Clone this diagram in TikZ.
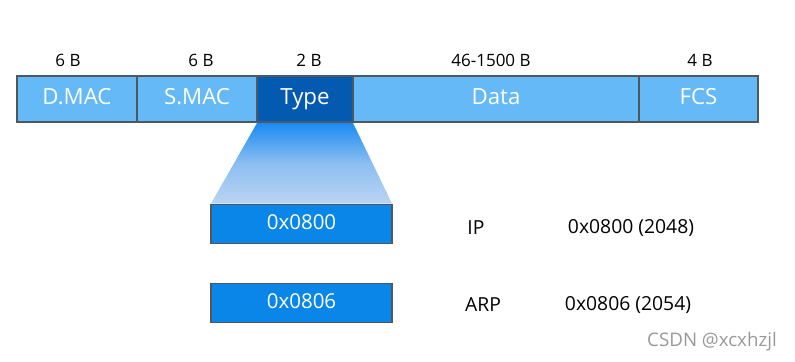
\documentclass[tikz,border=0pt]{standalone}
\usepackage{fontspec}
\setmainfont{Open Sans}
\usepackage{xcolor}
\definecolor{fieldblue}{HTML}{64B9F6}
\definecolor{typeblue}{HTML}{0459B0}
\definecolor{valblue}{HTML}{0A86E8}
\definecolor{edgegray}{HTML}{4E5862}
\definecolor{fanblue}{HTML}{1A8BF2}
\definecolor{fanlight}{HTML}{BCD4F2}
\usepackage{tikz}
\usetikzlibrary{positioning, calc}

\begin{document}
\begin{tikzpicture}[x=0.03cm, y=-0.03cm,
        field/.style={rectangle, draw=edgegray, line width=1.2pt, fill=fieldblue, text=white, minimum height=1.38cm, inner sep=0pt, outer sep=0pt, text height=1.9ex, text depth=0pt, font=\fontsize{19}{22}\selectfont},
        size/.style={font=\fontsize{14.5}{17}\selectfont},
        value/.style={rectangle, draw=edgegray, line width=1.2pt, fill=valblue, text=white, minimum width=5.43cm, minimum height=1.17cm, inner sep=0pt, outer sep=0pt, text height=1.8ex, text depth=0pt, font=\fontsize{17.5}{20}\selectfont},
        proto/.style={font=\fontsize{16.5}{19}\selectfont}]

        \useasboundingbox (0,0) rectangle (795,361);

        % frame fields
        \node [field, minimum width=3.6cm, anchor=west] (dmac) at (17,99) {D.MAC};
        \node [field, minimum width=3.6cm, right=0pt of dmac] (smac) {S.MAC};
        \node [field, minimum width=2.88cm, fill=typeblue, right=0pt of smac] (type) {Type};
        \node [field, minimum width=8.58cm, right=0pt of type] (data) {Data};
        \node [field, minimum width=3.57cm, right=0pt of data] (fcs) {FCS};

        % field sizes
        \node [size] (sdmac) at (68,60) {6 B};
        \node [size] (ssmac) at (201,60) {6 B};
        \node [size] (stype) at (309,60) {2 B};
        \node [size] (sdata) at (491,60) {46-1500 B};
        \node [size] (sfcs) at (700,60) {4 B};

        % type values
        \node [value] (ip) at (301.5,224) {0x0800};
        \node [value] (arp) at (301.5,303) {0x0806};

        \shade [top color=fanblue, bottom color=fanlight, middle color=fanlight!70!fanblue]
            ($(type.south west)+(0,1)$) -- ($(type.south east)+(0,1)$) -- ($(ip.north east)+(0,-1)$) -- ($(ip.north west)+(0,-1)$) -- cycle;

        \node [proto] (nip) at (476,228) {IP};
        \node [proto] (vip) at (631,228) {0x0800 (2048)};
        \node [proto] (narp) at (483,305) {ARP};
        \node [proto] (varp) at (628,305) {0x0806 (2054)};

        \node [font=\fontsize{16}{19}\selectfont, text=black!40] (mark) at (712,342) {CSDN @xcxhzjl};
    \end{tikzpicture}
\end{document}
